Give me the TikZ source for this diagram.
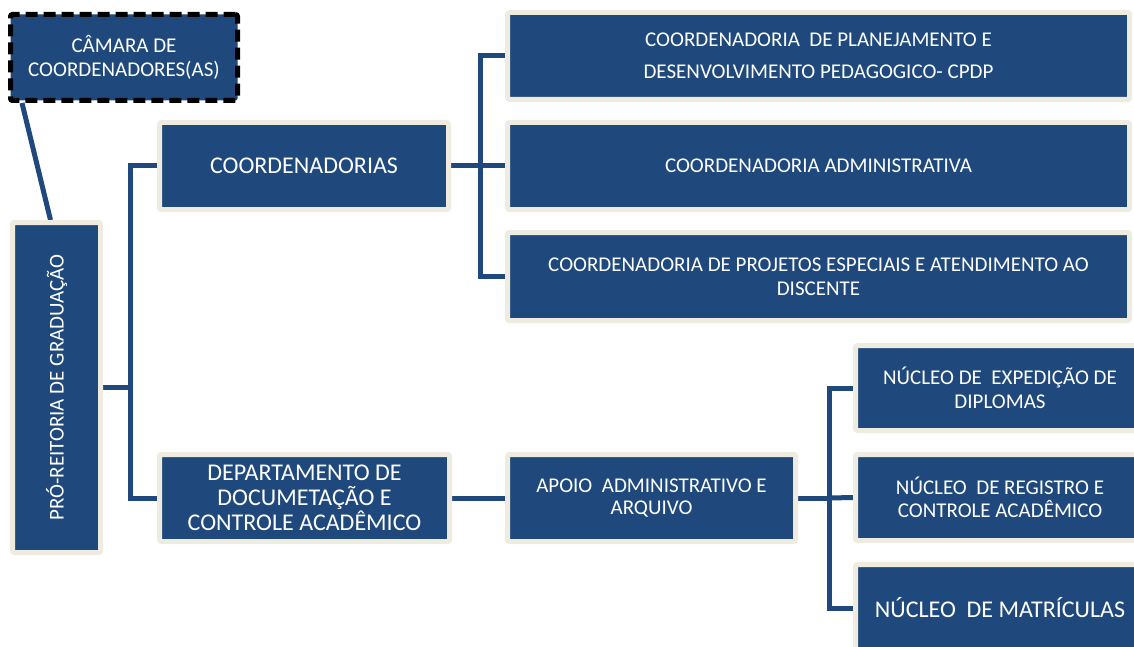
\documentclass[tikz,border=0pt]{standalone}
\usepackage{fontspec}
\setmainfont{Carlito}
\usepackage{graphicx}
\usetikzlibrary{backgrounds}
\definecolor{boxblue}{HTML}{1F497D}
\definecolor{boxrim}{HTML}{EEECE1}
\tikzset{
    % box look shared by all units
    unit/.style={rectangle,fill=boxblue,draw=boxrim,line width=5pt,
        rounded corners=2pt,text=white,align=center,inner sep=0pt},
    unit small/.style={unit,font=\fontsize{21}{23.5}\selectfont},
    unit big/.style={unit,font=\fontsize{24}{25}\selectfont},
    link/.style={draw=boxblue,line width=5pt},
}

\begin{document}
\begin{tikzpicture}[x=1pt,y=-1pt]
    \useasboundingbox (0,0) rectangle (1134,647);
    % left column
    \node[unit small,draw=black,dash pattern=on 12pt off 6pt,minimum width=227pt,minimum height=86pt] (camara) at (124,57.5) {CÂMARA DE\\COORDENADORES(AS)};
    \node[unit small,minimum width=88pt,minimum height=330pt] (pro) at (56.5,387.5) {\rotatebox{90}{PRÓ-REITORIA DE GRADUAÇÃO}};
    % second column
    \node[unit big,minimum width=289pt,minimum height=87pt] (coord) at (304,166) {COORDENADORIAS};
    \node[unit big,minimum width=290pt,minimum height=87pt] (depto) at (304.5,498) {DEPARTAMENTO DE\\DOCUMETAÇÃO E\\CONTROLE ACADÊMICO};
    % coordenadorias
    \node[unit small,font=\fontsize{21}{32}\selectfont,minimum width=622pt,minimum height=87pt] (cpdp) at (818.5,56) {COORDENADORIA~ DE PLANEJAMENTO E\\DESENVOLVIMENTO PEDAGOGICO- CPDP};
    \node[unit small,minimum width=622pt,minimum height=87pt] (cadm) at (818.5,166) {COORDENADORIA ADMINISTRATIVA};
    \node[unit small,font=\fontsize{21}{24}\selectfont,minimum width=622pt,minimum height=88pt] (cpea) at (818.5,276.5) {COORDENADORIA DE PROJETOS ESPECIAIS E ATENDIMENTO AO\\DISCENTE};
    % departamento
    \node[unit small,font=\fontsize{21}{22}\selectfont,minimum width=288pt,minimum height=87pt] (apoio) at (651.5,498) {APOIO~ ADMINISTRATIVO E\\ARQUIVO};
    \node[unit small,minimum width=289pt,minimum height=85pt] (nexp) at (1000,388) {NÚCLEO DE~ EXPEDIÇÃO DE\\DIPLOMAS};
    \node[unit small,minimum width=289pt,minimum height=86pt] (nreg) at (1000,497.5) {NÚCLEO~ DE REGISTRO E\\CONTROLE ACADÊMICO};
    \node[unit big,minimum width=289pt,minimum height=87pt] (nmat) at (1000,608) {NÚCLEO~ DE MATRÍCULAS};
    % forks
    \coordinate (fork1) at ([xshift=27.5pt]pro.east);
    \coordinate (fork2) at ([xshift=29.5pt]coord.east);
    \coordinate (fork3) at ([xshift=31.5pt]apoio.east);
    \begin{scope}[on background layer]
        \draw[link] ([xshift=14pt]camara.south west) -- ([xshift=40.5pt]pro.north west);
        \draw[link] (pro.east) -- (fork1);
        \draw[link] (coord.west) -| (fork1) |- (depto.west);
        \draw[link] (coord.east) -- (cadm.west);
        \draw[link] (cpdp.west) -| (fork2) |- (cpea.west);
        \draw[link] (depto.east) -- (apoio.west);
        \draw[link] (apoio.east) -- (fork3);
        \draw[link] (nexp.west) -| (fork3) |- (nmat.west);
        \draw[link] (fork3) -- (nreg.west);
    \end{scope}
\end{tikzpicture}
\end{document}
